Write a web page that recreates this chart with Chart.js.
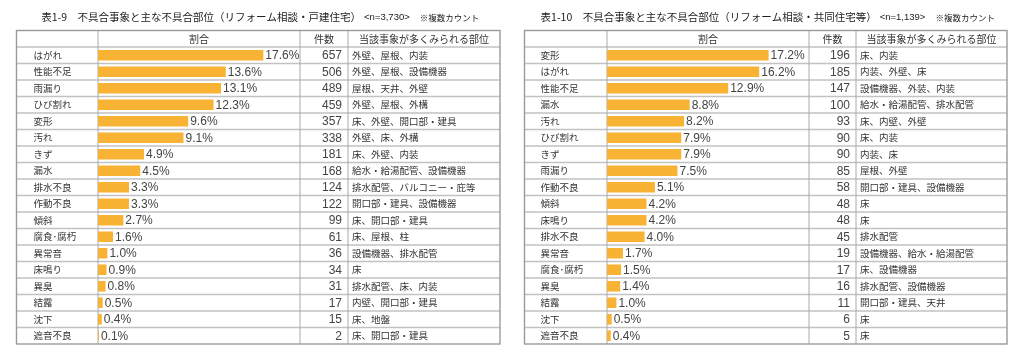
<!DOCTYPE html>
<html><head><meta charset="utf-8">
<script src="https://cdn.jsdelivr.net/npm/chart.js@4"></script>
<style>
html,body{margin:0;padding:0;background:#fff;width:1024px;height:360px;overflow:hidden}
canvas{position:absolute;top:0}
#c1{left:0}#c2{left:512px}
</style></head>
<body>
<canvas id="c1" width="512" height="360"></canvas>
<canvas id="c2" width="512" height="360"></canvas>
<script>
const noteText = '※複数カウント';
const headers = ['割合', '件数', '当該事象が多くみられる部位'];

const leftTitle = '表1-9　不具合事象と主な不具合部位（リフォーム相談・戸建住宅）';
const leftN = '<n=3,730>';
const leftCategories = ['はがれ','性能不足','雨漏り','ひび割れ','変形','汚れ','きず','漏水','排水不良','作動不良','傾斜','腐食･腐朽','異常音','床鳴り','異臭','結露','沈下','遮音不良'];
const leftShares = [17.6,13.6,13.1,12.3,9.6,9.1,4.9,4.5,3.3,3.3,2.7,1.6,1.0,0.9,0.8,0.5,0.4,0.1];
const leftCounts = [657,506,489,459,357,338,181,168,124,122,99,61,36,34,31,17,15,2];
const leftParts = ['外壁、屋根、内装','外壁、屋根、設備機器','屋根、天井、外壁','外壁、屋根、外構','床、外壁、開口部・建具','外壁、床、外構','床、外壁、内装','給水・給湯配管、設備機器','排水配管、バルコニー・庇等','開口部・建具、設備機器','床、開口部・建具','床、屋根、柱','設備機器、排水配管','床','排水配管、床、内装','内壁、開口部・建具','床、地盤','床、開口部・建具'];

const rightTitle = '表1-10　不具合事象と主な不具合部位（リフォーム相談・共同住宅等）';
const rightN = '<n=1,139>';
const rightCategories = ['変形','はがれ','性能不足','漏水','汚れ','ひび割れ','きず','雨漏り','作動不良','傾斜','床鳴り','排水不良','異常音','腐食･腐朽','異臭','結露','沈下','遮音不良'];
const rightShares = [17.2,16.2,12.9,8.8,8.2,7.9,7.9,7.5,5.1,4.2,4.2,4.0,1.7,1.5,1.4,1.0,0.5,0.4];
const rightCounts = [196,185,147,100,93,90,90,85,58,48,48,45,19,17,16,11,6,5];
const rightParts = ['床、内装','内装、外壁、床','設備機器、外装、内装','給水・給湯配管、排水配管','床、内壁、外壁','床、内装','内装、床','屋根、外壁','開口部・建具、設備機器','床','床','排水配管','設備機器、給水・給湯配管','床、設備機器','排水配管、設備機器','開口部・建具、天井','床','床'];

const xMax = 21.5;
const JP = '"Noto Sans CJK JP", "Noto Sans", sans-serif';
const NUM = '"Liberation Sans", Arial, sans-serif';

function makeTable(id, t) {
  const plugin = {
    id: 'tableGrid_' + id,
    beforeDatasetsDraw(chart) {
      const ctx = chart.ctx, ca = chart.chartArea, y = chart.scales.y;
      const band = y.getPixelForValue(1) - y.getPixelForValue(0);
      const top = ca.top - band, bottom = ca.bottom;
      ctx.save();
      ctx.strokeStyle = '#c2c2c2';
      ctx.lineWidth = 1.3;
      for (let i = 0; i < t.categories.length; i++) {
        const yy = y.getPixelForValue(i) - band / 2;
        ctx.beginPath(); ctx.moveTo(t.tableLeft, yy); ctx.lineTo(t.tableRight, yy); ctx.stroke();
      }
      ctx.strokeStyle = '#aaaaaa';
      ctx.lineWidth = 1;
      [ca.left, ca.right, t.countDiv].forEach(xx => {
        ctx.beginPath(); ctx.moveTo(xx, top); ctx.lineTo(xx, bottom); ctx.stroke();
      });
      ctx.strokeStyle = '#9a9a9a';
      ctx.lineWidth = 1.4;
      ctx.strokeRect(t.tableLeft, top, t.tableRight - t.tableLeft, bottom - top);
      ctx.restore();
    },
    afterDatasetsDraw(chart) {
      const ctx = chart.ctx, ca = chart.chartArea, y = chart.scales.y, x = chart.scales.x;
      const band = y.getPixelForValue(1) - y.getPixelForValue(0);
      const headY = ca.top - band / 2;
      ctx.save();
      ctx.textBaseline = 'middle';
      // title
      ctx.fillStyle = '#222';
      ctx.font = '10.5px ' + JP;
      const w1 = ctx.measureText(t.title).width;
      ctx.font = '9.5px ' + NUM;
      const w2 = ctx.measureText(t.n).width;
      ctx.font = '8.5px ' + JP;
      const w3 = ctx.measureText(t.note).width;
      const gap1 = 3, gap2 = 10;
      const total = w1 + gap1 + w2 + gap2 + w3;
      let tx = (t.tableLeft + t.tableRight) / 2 - total / 2 + 2;
      ctx.textAlign = 'left';
      ctx.font = '10.5px ' + JP; ctx.fillText(t.title, tx, 17); tx += w1 + gap1;
      ctx.font = '9.5px ' + NUM; ctx.fillText(t.n, tx, 17.5); tx += w2 + gap2;
      ctx.font = '8.5px ' + JP; ctx.fillText(t.note, tx, 17.5);
      // header
      ctx.fillStyle = '#333';
      ctx.font = '10px ' + JP;
      ctx.textAlign = 'center';
      ctx.fillText(headers[0], (ca.left + ca.right) / 2, headY);
      ctx.fillText(headers[1], (ca.right + t.countDiv) / 2, headY);
      ctx.fillText(headers[2], (t.countDiv + t.tableRight) / 2, headY);
      // rows
      t.categories.forEach((c, i) => {
        const yy = y.getPixelForValue(i);
        ctx.fillStyle = '#333';
        ctx.textAlign = 'left';
        ctx.font = '9.5px ' + JP;
        ctx.fillText(c, t.tableLeft + t.labelPad, yy);
        ctx.fillText(t.parts[i], t.countDiv + 4, yy);
        ctx.fillStyle = '#444';
        ctx.font = '12px ' + NUM;
        ctx.fillText(t.shares[i].toFixed(1) + '%', x.getPixelForValue(t.shares[i]) + 2, yy + 0.5);
        ctx.textAlign = 'right';
        ctx.fillText(String(t.counts[i]), t.countDiv - 6, yy + 0.5);
      });
      ctx.restore();
    }
  };
  return new Chart(document.getElementById(id), {
    type: 'bar',
    data: {
      labels: t.categories,
      datasets: [{
        data: t.shares,
        backgroundColor: '#F8B234',
        borderWidth: 0,
        barPercentage: 0.64,
        categoryPercentage: 1.0
      }]
    },
    options: {
      indexAxis: 'y',
      responsive: false,
      animation: false,
      layout: { padding: { left: t.barLeft, right: 512 - t.barRight, top: 47, bottom: 16 } },
      scales: {
        x: { type: 'linear', min: 0, max: xMax, display: false },
        y: { type: 'category', display: false, offset: true }
      },
      plugins: { legend: { display: false }, tooltip: { enabled: false }, title: { display: false } }
    },
    plugins: [plugin]
  });
}

makeTable('c1', {
  title: leftTitle, n: leftN, note: noteText,
  categories: leftCategories, shares: leftShares, counts: leftCounts, parts: leftParts,
  tableLeft: 16.5, barLeft: 98, barRight: 300, countDiv: 348, tableRight: 500, labelPad: 17
});
makeTable('c2', {
  title: rightTitle, n: rightN, note: noteText,
  categories: rightCategories, shares: rightShares, counts: rightCounts, parts: rightParts,
  tableLeft: 12.5, barLeft: 95, barRight: 297, countDiv: 344, tableRight: 495, labelPad: 16
});
</script>
</body></html>
